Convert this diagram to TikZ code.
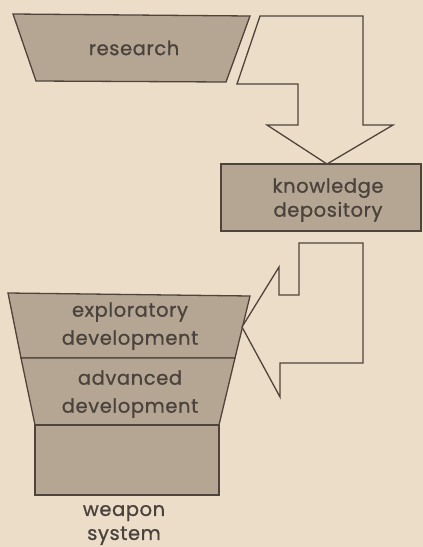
\documentclass[tikz,border=0pt]{standalone}
\usepackage{fontspec}
\setmainfont{Poppins}[FakeBold=0.8,LetterSpace=3]
\definecolor{paper}{HTML}{ECDDC9}
\definecolor{boxfill}{HTML}{B5A593}
\definecolor{ink}{HTML}{4F443B}
\definecolor{txt}{HTML}{4A423C}
\begin{document}
\begin{tikzpicture}[x=1pt,y=-1pt,
  shapebox/.style={fill=boxfill,draw=ink,line width=1.3pt,line join=miter},
  bigarrow/.style={fill=paper,draw=ink,line width=1.3pt,line join=miter},
  lbl/.style={text=txt,align=center,inner sep=0pt,font=\fontsize{19.5}{24}\selectfont}]
\fill[paper] (0,0) rectangle (423,547);
\useasboundingbox (0,0) rectangle (423,547);
% research
\draw[shapebox] (13,14) -- (250,16) -- (226,82) -- (36,81) -- cycle;
\node[lbl] (research) at (134,48) {research};
% arrow research -> knowledge
\draw[bigarrow] (260,16) -- (363,16) -- (363,125) -- (393,125) -- (327,164) -- (267,125) -- (298,125) -- (298,84) -- (237,84) -- cycle;
% knowledge depository
\draw[shapebox] (221,164) rectangle (421,231);
\node[lbl] (know) at (328,200) {knowledge\\depository};
% stack
\draw[shapebox] (8,293) -- (250,296) -- (235,358) -- (21,358) -- cycle;
\draw[shapebox] (21,358) -- (235,358) -- (219,425) -- (35,425) -- cycle;
\draw[shapebox] (35,425) rectangle (219,495);
\node[lbl,font=\fontsize{19.5}{28}\selectfont] (explor) at (130,326) {exploratory\\development};
\node[lbl,font=\fontsize{19.5}{28}\selectfont] (adv) at (130,394) {advanced\\development};
\node[lbl,font=\fontsize{19.5}{24}\selectfont] (weapon) at (124,525) {weapon\\system};
% arrow knowledge -> exploratory
\draw[bigarrow] (299,243) -- (363,243) -- (363,363) -- (280,363) -- (280,397) -- (242,327) -- (279,267) -- (279,295) -- (299,295) -- cycle;
\end{tikzpicture}
\end{document}
